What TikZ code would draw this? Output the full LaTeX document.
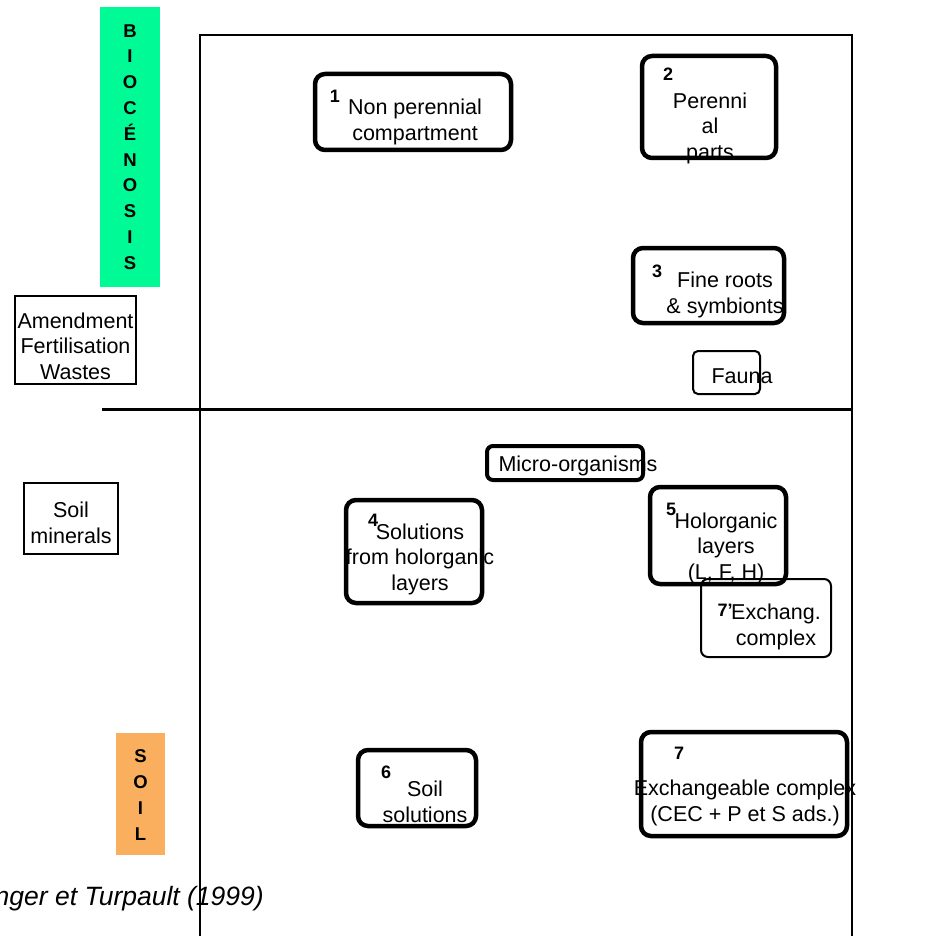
\documentclass[tikz,border=0pt]{standalone}
\usepackage{fontspec}
\setmainfont{Liberation Sans}
\definecolor{bioGreen}{RGB}{0,250,150}
\definecolor{soilOrange}{RGB}{250,175,95}
\begin{document}
\begin{tikzpicture}[x=1pt,y=-1pt,
  thickbox/.style={draw, line width=4.5pt, rounded corners=10pt, inner sep=0pt},
  thinbox/.style={draw, line width=2pt, rounded corners=7pt, inner sep=0pt},
  sqbox/.style={draw, line width=2.5pt, inner sep=0pt},
  txt/.style={align=center, inner sep=0pt, font=\fontsize{21.5}{25.5}\selectfont},
  num/.style={inner sep=0pt, font=\fontsize{18}{20}\selectfont\bfseries},
  vlab/.style={align=center, inner sep=0pt, font=\fontsize{18.5}{25.8}\selectfont\bfseries}
]
\useasboundingbox (0,0) rectangle (936,936);
% side labels
\node[fill=bioGreen, minimum width=60pt, minimum height=280pt, inner sep=0pt] (bio) at (130,147) {};
\node[vlab] (biot) at (130,147) {B\\I\\O\\C\\É\\N\\O\\S\\I\\S};
\node[fill=soilOrange, minimum width=49pt, minimum height=122pt, inner sep=0pt] (soil) at (140.5,794) {};
\node[vlab] (soilt) at (140.5,795) {S\\O\\I\\L};
% frame
\draw[line width=2pt] (200,938) -- (200,35) -- (852,35) -- (852,938);
\draw[line width=3pt] (102,409) -- (852,409);
% outside boxes
\node[sqbox, minimum width=121pt, minimum height=88pt] (amend) at (75.5,340) {};
\node[txt] (amendt) at (75.5,346) {Amendment\\Fertilisation\\Wastes};
\node[sqbox, minimum width=94pt, minimum height=71pt] (soilmin) at (71,518.5) {};
\node[txt] (soilmint) at (71,523) {Soil\\minerals};
% box 1
\node[thickbox, minimum width=196pt, minimum height=76pt] (b1) at (413,112) {};
\node[txt] (b1t) at (415,122) {Non perennial\\compartment};
\node[num] (b1n) at (335,96) {1};
% box 2
\node[thickbox, minimum width=134pt, minimum height=102pt] (b2) at (709,107) {};
\node[txt] (b2t) at (710,128) {Perenni\\al\\parts};
\node[num] (b2n) at (668,74) {2};
% box 3
\node[thickbox, minimum width=151pt, minimum height=75pt] (b3) at (708.5,285.5) {};
\node[txt] (b3t) at (725,295) {Fine roots\\\& symbionts};
\node[num] (b3n) at (657,271) {3};
% fauna
\node[thinbox, minimum width=67pt, minimum height=43pt, rounded corners=5pt] (fauna) at (726.5,372.5) {};
\node[txt] (faunat) at (742,376) {Fauna};
% micro-organisms
\node[thickbox, line width=4pt, rounded corners=6pt, minimum width=156pt, minimum height=34pt] (micro) at (565,463) {};
\node[txt] (microt) at (578,466) {Micro-organisms};
% box 4
\node[thickbox, minimum width=136pt, minimum height=103pt] (b4) at (414,551.5) {};
\node[txt] (b4t) at (420,559) {Solutions\\from holorganic\\layers};
\node[num] (b4n) at (373,520) {4};
% box 5
\node[thickbox, minimum width=136pt, minimum height=97pt] (b5) at (718,535.5) {};
\node[txt] (b5t) at (726,548) {Holorganic\\layers\\(L, F, H)};
\node[num] (b5n) at (671,509) {5};
% box 7'
\node[thinbox, minimum width=130pt, minimum height=78pt] (b7p) at (766,618) {};
\node[txt] (b7pt) at (776,627) {Exchang.\\complex};
\node[num] (b7pn) at (725,610) {7’};
% box 6
\node[thickbox, minimum width=118pt, minimum height=76pt] (b6) at (417,788) {};
\node[txt] (b6t) at (425,802) {Soil\\solutions};
\node[num] (b6n) at (386,772) {6};
% box 7
\node[thickbox, minimum width=206pt, minimum height=104pt] (b7) at (744,784) {};
\node[txt] (b7t) at (745,803) {Exchangeable complex\\(CEC + P et S ads.)};
\node[num] (b7n) at (679,753) {7};
% citation
\node[inner sep=0pt, anchor=base east, font=\fontsize{26.5}{30}\selectfont\itshape] (cite) at (264,905) {nger et Turpault (1999)};
\end{tikzpicture}
\end{document}
